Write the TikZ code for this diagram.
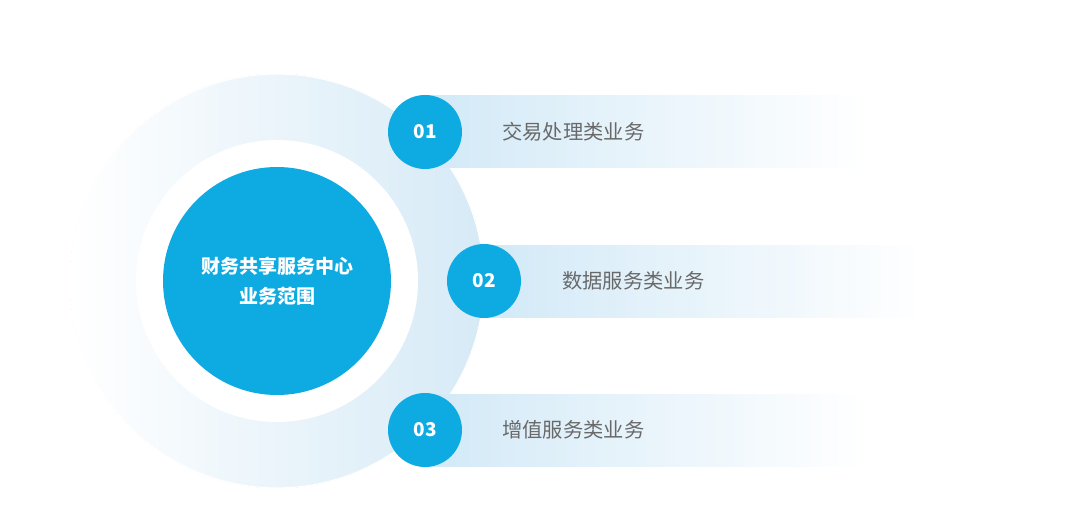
\documentclass[tikz,border=0pt]{standalone}
\usepackage{fontspec}
\setmainfont{Open Sans}
\newfontfamily\cjk{Noto Sans CJK SC}
\definecolor{mainblue}{RGB}{14,170,226}
\definecolor{barblue}{RGB}{210,233,247}
\definecolor{ringblue}{RGB}{214,234,246}
\definecolor{textgray}{RGB}{105,105,105}

\begin{document}
\begin{tikzpicture}[x=1pt, y=-1pt]
    % Styles
    \tikzstyle{numdot} = [circle, fill=mainblue, minimum size=74pt, inner sep=0pt, text=white, font=\cjk\bfseries\fontsize{19}{19}\selectfont]
    \tikzstyle{bar} = [rectangle, left color=barblue, right color=white, minimum width=440pt, minimum height=72pt, inner sep=0pt, anchor=west]
    \tikzstyle{item} = [anchor=west, inner sep=0pt, text=textgray, font=\cjk\fontsize{20.3}{21}\selectfont]

    \useasboundingbox (0,0) rectangle (1080,532);

    % Rings
    \fill[left color=white, right color=ringblue] (277,281) circle (207pt);
    \draw[white, line width=1.2pt] (277,281) circle (207pt);
    \fill[white] (277,281) circle (141pt);

    % Bars
    \node[bar] (B1) at (425,132) {};
    \node[bar] (B2) at (484,281) {};
    \node[bar] (B3) at (425,430) {};

    % Nodes
    \node[circle, fill=mainblue, minimum size=228pt, inner sep=0pt, text=white, align=center,
          font=\cjk\bfseries\fontsize{19}{30}\selectfont] (C) at (277,281) {财务共享服务中心\\业务范围};
    \node[numdot] (N1) at (425,132) {01};
    \node[numdot] (N2) at (484,281) {02};
    \node[numdot] (N3) at (425,430) {03};

    % Labels
    \node[item] (L1) at (502,132) {交易处理类业务};
    \node[item] (L2) at (562,281) {数据服务类业务};
    \node[item] (L3) at (502,430) {增值服务类业务};
\end{tikzpicture}
\end{document}
